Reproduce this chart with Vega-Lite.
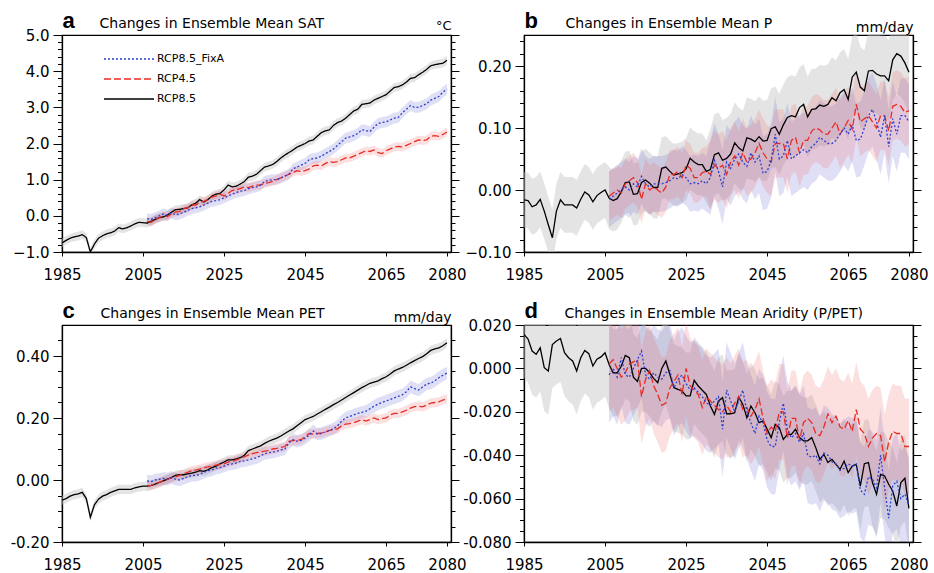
{
"$schema":"https://vega.github.io/schema/vega-lite/v6.json",
"padding":{"left":9,"top":8,"right":4,"bottom":4},
"autosize":{"type":"pad"},
"columns":2,
"spacing":{"row":73,"column":73},
"bounds":"flush",
"config":{"view":{"stroke":"black","strokeWidth":1.2},"axis":{"grid":false,"domainColor":"black","domainWidth":1.3,"tickColor":"black","tickWidth":1,"labelColor":"black","labelFont":"DejaVu Sans","labelFontSize":15,"titleColor":"black","titleFont":"DejaVu Sans","titleFontWeight":"normal","labelOverlap":false,"labelFlush":false}},
"datasets":{
"A":[
{"y":1985,"k":-0.75,"kl":-0.87,"kh":-0.63},{"y":1986,"k":-0.68,"kl":-0.8,"kh":-0.56},{"y":1987,"k":-0.62,"kl":-0.74,"kh":-0.5},{"y":1988,"k":-0.58,"kl":-0.7,"kh":-0.46},{"y":1989,"k":-0.56,"kl":-0.68,"kh":-0.44},{"y":1990,"k":-0.52,"kl":-0.64,"kh":-0.4},{"y":1991,"k":-0.6,"kl":-0.72,"kh":-0.48},{"y":1992,"k":-1.0,"kl":-1.12,"kh":-0.88},{"y":1993,"k":-0.78,"kl":-0.9,"kh":-0.66},{"y":1994,"k":-0.62,"kl":-0.74,"kh":-0.5},{"y":1995,"k":-0.55,"kl":-0.67,"kh":-0.43},{"y":1996,"k":-0.5,"kl":-0.62,"kh":-0.38},{"y":1997,"k":-0.47,"kl":-0.59,"kh":-0.35},{"y":1998,"k":-0.42,"kl":-0.54,"kh":-0.3},{"y":1999,"k":-0.33,"kl":-0.45,"kh":-0.21},{"y":2000,"k":-0.36,"kl":-0.48,"kh":-0.24},{"y":2001,"k":-0.33,"kl":-0.45,"kh":-0.21},{"y":2002,"k":-0.28,"kl":-0.4,"kh":-0.16},{"y":2003,"k":-0.22,"kl":-0.34,"kh":-0.1},{"y":2004,"k":-0.18,"kl":-0.3,"kh":-0.06},{"y":2005,"k":-0.19,"kl":-0.31,"kh":-0.07},
{"y":2006,"k":-0.2,"kl":-0.32,"kh":-0.08,"b":-0.08,"bl":-0.23,"bh":0.07,"r":-0.15,"rl":-0.27,"rh":-0.03},
{"y":2007,"k":-0.15,"kl":-0.27,"kh":-0.03,"b":-0.1,"bl":-0.25,"bh":0.05,"r":-0.18,"rl":-0.3,"rh":-0.06},
{"y":2008,"k":-0.1,"kl":-0.22,"kh":0.02,"b":-0.05,"bl":-0.2,"bh":0.1,"r":-0.1,"rl":-0.22,"rh":0.02},
{"y":2009,"k":-0.05,"kl":-0.17,"kh":0.07,"b":0.0,"bl":-0.15,"bh":0.15,"r":-0.05,"rl":-0.17,"rh":0.07},
{"y":2010,"k":-0.03,"kl":-0.15,"kh":0.09,"b":0.05,"bl":-0.1,"bh":0.2,"r":0.0,"rl":-0.12,"rh":0.12},
{"y":2011,"k":0.02,"kl":-0.1,"kh":0.14,"b":0.02,"bl":-0.13,"bh":0.17,"r":-0.02,"rl":-0.14,"rh":0.1},
{"y":2012,"k":0.1,"kl":-0.02,"kh":0.22,"b":0.08,"bl":-0.07,"bh":0.23,"r":0.05,"rl":-0.07,"rh":0.17},
{"y":2013,"k":0.17,"kl":0.05,"kh":0.29,"b":0.03,"bl":-0.12,"bh":0.18,"r":0.1,"rl":-0.02,"rh":0.22},
{"y":2014,"k":0.18,"kl":0.06,"kh":0.3,"b":0.05,"bl":-0.1,"bh":0.2,"r":0.12,"rl":0.0,"rh":0.24},
{"y":2015,"k":0.2,"kl":0.08,"kh":0.32,"b":0.1,"bl":-0.05,"bh":0.25,"r":0.2,"rl":0.08,"rh":0.32},
{"y":2016,"k":0.22,"kl":0.1,"kh":0.34,"b":0.15,"bl":0.0,"bh":0.3,"r":0.22,"rl":0.1,"rh":0.34},
{"y":2017,"k":0.3,"kl":0.18,"kh":0.42,"b":0.2,"bl":0.05,"bh":0.35,"r":0.3,"rl":0.18,"rh":0.42},
{"y":2018,"k":0.35,"kl":0.23,"kh":0.47,"b":0.22,"bl":0.07,"bh":0.37,"r":0.3,"rl":0.18,"rh":0.42},
{"y":2019,"k":0.45,"kl":0.33,"kh":0.57,"b":0.25,"bl":0.1,"bh":0.4,"r":0.38,"rl":0.26,"rh":0.5},
{"y":2020,"k":0.38,"kl":0.26,"kh":0.5,"b":0.3,"bl":0.15,"bh":0.45,"r":0.4,"rl":0.28,"rh":0.52},
{"y":2021,"k":0.45,"kl":0.33,"kh":0.57,"b":0.35,"bl":0.2,"bh":0.5,"r":0.45,"rl":0.33,"rh":0.57},
{"y":2022,"k":0.55,"kl":0.43,"kh":0.67,"b":0.4,"bl":0.25,"bh":0.55,"r":0.52,"rl":0.4,"rh":0.64},
{"y":2023,"k":0.6,"kl":0.48,"kh":0.72,"b":0.42,"bl":0.27,"bh":0.57,"r":0.55,"rl":0.43,"rh":0.67},
{"y":2024,"k":0.62,"kl":0.5,"kh":0.74,"b":0.45,"bl":0.3,"bh":0.6,"r":0.6,"rl":0.48,"rh":0.72},
{"y":2025,"k":0.72,"kl":0.6,"kh":0.84,"b":0.5,"bl":0.35,"bh":0.65,"r":0.55,"rl":0.43,"rh":0.67},
{"y":2026,"k":0.85,"kl":0.73,"kh":0.97,"b":0.55,"bl":0.4,"bh":0.7,"r":0.62,"rl":0.5,"rh":0.74},
{"y":2027,"k":0.8,"kl":0.68,"kh":0.92,"b":0.6,"bl":0.45,"bh":0.75,"r":0.7,"rl":0.58,"rh":0.82},
{"y":2028,"k":0.82,"kl":0.7,"kh":0.94,"b":0.65,"bl":0.5,"bh":0.8,"r":0.72,"rl":0.6,"rh":0.84},
{"y":2029,"k":0.88,"kl":0.76,"kh":1.0,"b":0.68,"bl":0.53,"bh":0.83,"r":0.75,"rl":0.63,"rh":0.87},
{"y":2030,"k":0.95,"kl":0.83,"kh":1.07,"b":0.7,"bl":0.55,"bh":0.85,"r":0.8,"rl":0.68,"rh":0.92},
{"y":2031,"k":1.07,"kl":0.95,"kh":1.19,"b":0.75,"bl":0.6,"bh":0.9,"r":0.78,"rl":0.66,"rh":0.9},
{"y":2032,"k":1.1,"kl":0.98,"kh":1.22,"b":0.78,"bl":0.63,"bh":0.93,"r":0.82,"rl":0.7,"rh":0.94},
{"y":2033,"k":1.15,"kl":1.03,"kh":1.27,"b":0.8,"bl":0.65,"bh":0.95,"r":0.85,"rl":0.73,"rh":0.97},
{"y":2034,"k":1.25,"kl":1.13,"kh":1.37,"b":0.85,"bl":0.7,"bh":1.0,"r":0.85,"rl":0.73,"rh":0.97},
{"y":2035,"k":1.35,"kl":1.23,"kh":1.47,"b":0.95,"bl":0.8,"bh":1.1,"r":0.9,"rl":0.78,"rh":1.02},
{"y":2036,"k":1.38,"kl":1.26,"kh":1.5,"b":0.98,"bl":0.83,"bh":1.13,"r":0.92,"rl":0.8,"rh":1.04},
{"y":2037,"k":1.42,"kl":1.3,"kh":1.54,"b":1.0,"bl":0.85,"bh":1.15,"r":0.95,"rl":0.83,"rh":1.07},
{"y":2038,"k":1.5,"kl":1.38,"kh":1.62,"b":1.0,"bl":0.85,"bh":1.15,"r":1.0,"rl":0.88,"rh":1.12},
{"y":2039,"k":1.6,"kl":1.48,"kh":1.72,"b":1.05,"bl":0.9,"bh":1.2,"r":1.05,"rl":0.93,"rh":1.17},
{"y":2040,"k":1.68,"kl":1.56,"kh":1.8,"b":1.1,"bl":0.95,"bh":1.25,"r":1.1,"rl":0.98,"rh":1.22},
{"y":2041,"k":1.75,"kl":1.63,"kh":1.87,"b":1.15,"bl":1.0,"bh":1.3,"r":1.15,"rl":1.03,"rh":1.27},
{"y":2042,"k":1.82,"kl":1.7,"kh":1.94,"b":1.3,"bl":1.15,"bh":1.45,"r":1.2,"rl":1.08,"rh":1.32},
{"y":2043,"k":1.9,"kl":1.78,"kh":2.02,"b":1.35,"bl":1.2,"bh":1.5,"r":1.25,"rl":1.13,"rh":1.37},
{"y":2044,"k":1.95,"kl":1.83,"kh":2.07,"b":1.4,"bl":1.25,"bh":1.55,"r":1.22,"rl":1.1,"rh":1.34},
{"y":2045,"k":2.0,"kl":1.88,"kh":2.12,"b":1.45,"bl":1.3,"bh":1.6,"r":1.25,"rl":1.13,"rh":1.37},
{"y":2046,"k":2.07,"kl":1.95,"kh":2.19,"b":1.55,"bl":1.4,"bh":1.7,"r":1.3,"rl":1.18,"rh":1.42},
{"y":2047,"k":2.1,"kl":1.98,"kh":2.22,"b":1.58,"bl":1.43,"bh":1.73,"r":1.38,"rl":1.26,"rh":1.5},
{"y":2048,"k":2.2,"kl":2.08,"kh":2.32,"b":1.6,"bl":1.45,"bh":1.75,"r":1.4,"rl":1.28,"rh":1.52},
{"y":2049,"k":2.3,"kl":2.18,"kh":2.42,"b":1.65,"bl":1.5,"bh":1.8,"r":1.38,"rl":1.26,"rh":1.5},
{"y":2050,"k":2.35,"kl":2.23,"kh":2.47,"b":1.72,"bl":1.57,"bh":1.87,"r":1.45,"rl":1.33,"rh":1.57},
{"y":2051,"k":2.38,"kl":2.26,"kh":2.5,"b":1.78,"bl":1.63,"bh":1.93,"r":1.5,"rl":1.38,"rh":1.62},
{"y":2052,"k":2.5,"kl":2.38,"kh":2.62,"b":1.85,"bl":1.7,"bh":2.0,"r":1.48,"rl":1.36,"rh":1.6},
{"y":2053,"k":2.58,"kl":2.46,"kh":2.7,"b":1.95,"bl":1.8,"bh":2.1,"r":1.5,"rl":1.38,"rh":1.62},
{"y":2054,"k":2.62,"kl":2.5,"kh":2.74,"b":2.05,"bl":1.9,"bh":2.2,"r":1.55,"rl":1.43,"rh":1.67},
{"y":2055,"k":2.7,"kl":2.58,"kh":2.82,"b":2.15,"bl":2.0,"bh":2.3,"r":1.6,"rl":1.48,"rh":1.72},
{"y":2056,"k":2.8,"kl":2.68,"kh":2.92,"b":2.18,"bl":2.03,"bh":2.33,"r":1.6,"rl":1.48,"rh":1.72},
{"y":2057,"k":2.9,"kl":2.78,"kh":3.02,"b":2.22,"bl":2.07,"bh":2.37,"r":1.65,"rl":1.53,"rh":1.77},
{"y":2058,"k":2.95,"kl":2.83,"kh":3.07,"b":2.28,"bl":2.13,"bh":2.43,"r":1.7,"rl":1.58,"rh":1.82},
{"y":2059,"k":3.08,"kl":2.96,"kh":3.2,"b":2.38,"bl":2.23,"bh":2.53,"r":1.75,"rl":1.63,"rh":1.87},
{"y":2060,"k":3.1,"kl":2.98,"kh":3.22,"b":2.36,"bl":2.21,"bh":2.51,"r":1.8,"rl":1.68,"rh":1.92},
{"y":2061,"k":3.12,"kl":3.0,"kh":3.24,"b":2.33,"bl":2.18,"bh":2.48,"r":1.78,"rl":1.66,"rh":1.9},
{"y":2062,"k":3.2,"kl":3.08,"kh":3.32,"b":2.45,"bl":2.3,"bh":2.6,"r":1.82,"rl":1.7,"rh":1.94},
{"y":2063,"k":3.25,"kl":3.13,"kh":3.37,"b":2.55,"bl":2.4,"bh":2.7,"r":1.75,"rl":1.63,"rh":1.87},
{"y":2064,"k":3.3,"kl":3.18,"kh":3.42,"b":2.58,"bl":2.43,"bh":2.73,"r":1.72,"rl":1.6,"rh":1.84},
{"y":2065,"k":3.35,"kl":3.23,"kh":3.47,"b":2.6,"bl":2.45,"bh":2.75,"r":1.8,"rl":1.68,"rh":1.92},
{"y":2066,"k":3.45,"kl":3.33,"kh":3.57,"b":2.65,"bl":2.5,"bh":2.8,"r":1.85,"rl":1.73,"rh":1.97},
{"y":2067,"k":3.55,"kl":3.43,"kh":3.67,"b":2.7,"bl":2.55,"bh":2.85,"r":1.9,"rl":1.78,"rh":2.02},
{"y":2068,"k":3.57,"kl":3.45,"kh":3.69,"b":2.72,"bl":2.57,"bh":2.87,"r":1.92,"rl":1.8,"rh":2.04},
{"y":2069,"k":3.62,"kl":3.5,"kh":3.74,"b":2.85,"bl":2.7,"bh":3.0,"r":1.9,"rl":1.78,"rh":2.02},
{"y":2070,"k":3.7,"kl":3.58,"kh":3.82,"b":2.95,"bl":2.8,"bh":3.1,"r":1.95,"rl":1.83,"rh":2.07},
{"y":2071,"k":3.8,"kl":3.68,"kh":3.92,"b":3.05,"bl":2.9,"bh":3.2,"r":2.0,"rl":1.88,"rh":2.12},
{"y":2072,"k":3.82,"kl":3.7,"kh":3.94,"b":3.0,"bl":2.85,"bh":3.15,"r":2.05,"rl":1.93,"rh":2.17},
{"y":2073,"k":3.9,"kl":3.78,"kh":4.02,"b":3.0,"bl":2.85,"bh":3.15,"r":2.1,"rl":1.98,"rh":2.22},
{"y":2074,"k":3.97,"kl":3.85,"kh":4.09,"b":3.05,"bl":2.9,"bh":3.2,"r":2.08,"rl":1.96,"rh":2.2},
{"y":2075,"k":4.05,"kl":3.93,"kh":4.17,"b":3.1,"bl":2.95,"bh":3.25,"r":2.1,"rl":1.98,"rh":2.22},
{"y":2076,"k":4.15,"kl":4.03,"kh":4.27,"b":3.2,"bl":3.05,"bh":3.35,"r":2.2,"rl":2.08,"rh":2.32},
{"y":2077,"k":4.18,"kl":4.06,"kh":4.3,"b":3.25,"bl":3.1,"bh":3.4,"r":2.22,"rl":2.1,"rh":2.34},
{"y":2078,"k":4.2,"kl":4.08,"kh":4.32,"b":3.3,"bl":3.15,"bh":3.45,"r":2.2,"rl":2.08,"rh":2.32},
{"y":2079,"k":4.22,"kl":4.1,"kh":4.34,"b":3.42,"bl":3.27,"bh":3.57,"r":2.25,"rl":2.13,"rh":2.37},
{"y":2080,"k":4.3,"kl":4.18,"kh":4.42,"b":3.5,"bl":3.35,"bh":3.65,"r":2.32,"rl":2.2,"rh":2.44}
],
"B":[
{"y":1985,"k":-0.016,"kl":-0.061,"kh":0.029},{"y":1986,"k":-0.017,"kl":-0.062,"kh":0.028},{"y":1987,"k":-0.027,"kl":-0.072,"kh":0.018},{"y":1988,"k":-0.024,"kl":-0.069,"kh":0.021},{"y":1989,"k":-0.015,"kl":-0.06,"kh":0.03},{"y":1990,"k":-0.034,"kl":-0.079,"kh":0.011},{"y":1991,"k":-0.056,"kl":-0.101,"kh":-0.011},{"y":1992,"k":-0.077,"kl":-0.122,"kh":-0.032},{"y":1993,"k":-0.034,"kl":-0.079,"kh":0.011},{"y":1994,"k":-0.016,"kl":-0.061,"kh":0.029},{"y":1995,"k":-0.024,"kl":-0.069,"kh":0.021},{"y":1996,"k":-0.024,"kl":-0.069,"kh":0.021},{"y":1997,"k":-0.024,"kl":-0.069,"kh":0.021},{"y":1998,"k":-0.029,"kl":-0.074,"kh":0.016},{"y":1999,"k":-0.015,"kl":-0.06,"kh":0.03},{"y":2000,"k":-0.003,"kl":-0.048,"kh":0.042},{"y":2001,"k":-0.008,"kl":-0.053,"kh":0.037},{"y":2002,"k":-0.019,"kl":-0.064,"kh":0.026},{"y":2003,"k":-0.009,"kl":-0.054,"kh":0.036},{"y":2004,"k":-0.004,"kl":-0.049,"kh":0.041},{"y":2005,"k":0.0,"kl":-0.045,"kh":0.045},
{"y":2006,"k":-0.013,"kl":-0.063,"kh":0.037,"b":-0.015,"bl":-0.06,"bh":0.03,"r":-0.01,"rl":-0.05,"rh":0.03},
{"y":2007,"k":-0.017,"kl":-0.067,"kh":0.033,"b":-0.01,"bl":-0.055,"bh":0.035,"r":-0.005,"rl":-0.045,"rh":0.035},
{"y":2008,"k":-0.014,"kl":-0.064,"kh":0.036,"b":-0.005,"bl":-0.05,"bh":0.04,"r":0.0,"rl":-0.04,"rh":0.04},
{"y":2009,"k":-0.003,"kl":-0.053,"kh":0.047,"b":0.0,"bl":-0.045,"bh":0.045,"r":-0.005,"rl":-0.045,"rh":0.035},
{"y":2010,"k":0.012,"kl":-0.038,"kh":0.062,"b":0.005,"bl":-0.04,"bh":0.05,"r":0.01,"rl":-0.03,"rh":0.05},
{"y":2011,"k":0.013,"kl":-0.037,"kh":0.063,"b":0.0,"bl":-0.045,"bh":0.045,"r":0.015,"rl":-0.025,"rh":0.055},
{"y":2012,"k":-0.007,"kl":-0.057,"kh":0.043,"b":0.01,"bl":-0.035,"bh":0.055,"r":0.02,"rl":-0.02,"rh":0.06},
{"y":2013,"k":-0.006,"kl":-0.056,"kh":0.044,"b":0.005,"bl":-0.04,"bh":0.05,"r":0.012,"rl":-0.028,"rh":0.052},
{"y":2014,"k":0.012,"kl":-0.038,"kh":0.062,"b":0.022,"bl":-0.023,"bh":0.067,"r":-0.015,"rl":-0.055,"rh":0.025},
{"y":2015,"k":0.016,"kl":-0.034,"kh":0.066,"b":0.01,"bl":-0.035,"bh":0.055,"r":0.01,"rl":-0.03,"rh":0.05},
{"y":2016,"k":0.011,"kl":-0.039,"kh":0.061,"b":0.005,"bl":-0.04,"bh":0.05,"r":0.0,"rl":-0.04,"rh":0.04},
{"y":2017,"k":0.004,"kl":-0.046,"kh":0.054,"b":0.01,"bl":-0.035,"bh":0.055,"r":0.005,"rl":-0.035,"rh":0.045},
{"y":2018,"k":0.004,"kl":-0.046,"kh":0.054,"b":0.01,"bl":-0.035,"bh":0.055,"r":0.0,"rl":-0.04,"rh":0.04},
{"y":2019,"k":0.035,"kl":-0.015,"kh":0.085,"b":0.01,"bl":-0.035,"bh":0.055,"r":-0.005,"rl":-0.045,"rh":0.035},
{"y":2020,"k":0.037,"kl":-0.013,"kh":0.087,"b":0.012,"bl":-0.033,"bh":0.057,"r":0.005,"rl":-0.035,"rh":0.045},
{"y":2021,"k":0.03,"kl":-0.02,"kh":0.08,"b":0.015,"bl":-0.03,"bh":0.06,"r":0.025,"rl":-0.015,"rh":0.065},
{"y":2022,"k":0.024,"kl":-0.026,"kh":0.074,"b":0.02,"bl":-0.025,"bh":0.065,"r":0.025,"rl":-0.015,"rh":0.065},
{"y":2023,"k":0.026,"kl":-0.024,"kh":0.076,"b":0.018,"bl":-0.027,"bh":0.063,"r":0.03,"rl":-0.01,"rh":0.07},
{"y":2024,"k":0.028,"kl":-0.022,"kh":0.078,"b":0.025,"bl":-0.02,"bh":0.07,"r":0.02,"rl":-0.02,"rh":0.06},
{"y":2025,"k":0.034,"kl":-0.016,"kh":0.084,"b":0.02,"bl":-0.025,"bh":0.065,"r":0.04,"rl":0.0,"rh":0.08},
{"y":2026,"k":0.051,"kl":0.001,"kh":0.101,"b":0.01,"bl":-0.035,"bh":0.055,"r":0.035,"rl":-0.005,"rh":0.075},
{"y":2027,"k":0.045,"kl":-0.005,"kh":0.095,"b":0.012,"bl":-0.033,"bh":0.057,"r":0.02,"rl":-0.02,"rh":0.06},
{"y":2028,"k":0.041,"kl":-0.009,"kh":0.091,"b":0.01,"bl":-0.035,"bh":0.055,"r":0.02,"rl":-0.02,"rh":0.06},
{"y":2029,"k":0.041,"kl":-0.009,"kh":0.091,"b":0.015,"bl":-0.03,"bh":0.06,"r":0.028,"rl":-0.012,"rh":0.068},
{"y":2030,"k":0.03,"kl":-0.02,"kh":0.08,"b":0.01,"bl":-0.035,"bh":0.055,"r":0.03,"rl":-0.01,"rh":0.07},
{"y":2031,"k":0.033,"kl":-0.032,"kh":0.098,"b":0.02,"bl":-0.04,"bh":0.08,"r":0.025,"rl":-0.03,"rh":0.08},
{"y":2032,"k":0.057,"kl":-0.008,"kh":0.122,"b":0.048,"bl":-0.012,"bh":0.108,"r":0.04,"rl":-0.015,"rh":0.095},
{"y":2033,"k":0.06,"kl":-0.005,"kh":0.125,"b":0.03,"bl":-0.03,"bh":0.09,"r":0.035,"rl":-0.02,"rh":0.09},
{"y":2034,"k":0.048,"kl":-0.017,"kh":0.113,"b":0.005,"bl":-0.055,"bh":0.065,"r":0.04,"rl":-0.015,"rh":0.095},
{"y":2035,"k":0.051,"kl":-0.014,"kh":0.116,"b":0.045,"bl":-0.015,"bh":0.105,"r":0.025,"rl":-0.03,"rh":0.08},
{"y":2036,"k":0.058,"kl":-0.007,"kh":0.123,"b":0.035,"bl":-0.025,"bh":0.095,"r":0.045,"rl":-0.01,"rh":0.1},
{"y":2037,"k":0.076,"kl":0.011,"kh":0.141,"b":0.05,"bl":-0.01,"bh":0.11,"r":0.055,"rl":0.0,"rh":0.11},
{"y":2038,"k":0.068,"kl":0.003,"kh":0.133,"b":0.058,"bl":-0.002,"bh":0.118,"r":0.04,"rl":-0.015,"rh":0.095},
{"y":2039,"k":0.063,"kl":-0.002,"kh":0.128,"b":0.045,"bl":-0.015,"bh":0.105,"r":0.06,"rl":0.005,"rh":0.115},
{"y":2040,"k":0.084,"kl":0.019,"kh":0.149,"b":0.038,"bl":-0.022,"bh":0.098,"r":0.045,"rl":-0.01,"rh":0.1},
{"y":2041,"k":0.082,"kl":0.017,"kh":0.147,"b":0.06,"bl":0.0,"bh":0.12,"r":0.05,"rl":-0.005,"rh":0.105},
{"y":2042,"k":0.078,"kl":0.013,"kh":0.143,"b":0.045,"bl":-0.015,"bh":0.105,"r":0.06,"rl":0.005,"rh":0.115},
{"y":2043,"k":0.086,"kl":0.021,"kh":0.151,"b":0.055,"bl":-0.005,"bh":0.115,"r":0.075,"rl":0.02,"rh":0.13},
{"y":2044,"k":0.079,"kl":0.014,"kh":0.144,"b":0.027,"bl":-0.033,"bh":0.087,"r":0.06,"rl":0.005,"rh":0.115},
{"y":2045,"k":0.08,"kl":0.015,"kh":0.145,"b":0.03,"bl":-0.03,"bh":0.09,"r":0.05,"rl":-0.005,"rh":0.105},
{"y":2046,"k":0.099,"kl":0.034,"kh":0.164,"b":0.048,"bl":-0.012,"bh":0.108,"r":0.045,"rl":-0.01,"rh":0.1},
{"y":2047,"k":0.102,"kl":0.037,"kh":0.167,"b":0.09,"bl":0.03,"bh":0.15,"r":0.075,"rl":0.02,"rh":0.13},
{"y":2048,"k":0.09,"kl":0.025,"kh":0.155,"b":0.05,"bl":-0.01,"bh":0.11,"r":0.075,"rl":0.02,"rh":0.13},
{"y":2049,"k":0.105,"kl":0.04,"kh":0.17,"b":0.055,"bl":-0.005,"bh":0.115,"r":0.075,"rl":0.02,"rh":0.13},
{"y":2050,"k":0.117,"kl":0.052,"kh":0.182,"b":0.08,"bl":0.02,"bh":0.14,"r":0.05,"rl":-0.005,"rh":0.105},
{"y":2051,"k":0.12,"kl":0.055,"kh":0.185,"b":0.05,"bl":-0.01,"bh":0.11,"r":0.08,"rl":0.025,"rh":0.135},
{"y":2052,"k":0.118,"kl":0.053,"kh":0.183,"b":0.055,"bl":-0.005,"bh":0.115,"r":0.085,"rl":0.03,"rh":0.14},
{"y":2053,"k":0.133,"kl":0.068,"kh":0.198,"b":0.06,"bl":0.0,"bh":0.12,"r":0.06,"rl":0.005,"rh":0.115},
{"y":2054,"k":0.138,"kl":0.073,"kh":0.203,"b":0.065,"bl":0.005,"bh":0.125,"r":0.08,"rl":0.025,"rh":0.135},
{"y":2055,"k":0.118,"kl":0.053,"kh":0.183,"b":0.06,"bl":0.0,"bh":0.12,"r":0.08,"rl":0.025,"rh":0.135},
{"y":2056,"k":0.13,"kl":0.065,"kh":0.195,"b":0.07,"bl":0.01,"bh":0.13,"r":0.095,"rl":0.04,"rh":0.15},
{"y":2057,"k":0.131,"kl":0.066,"kh":0.196,"b":0.075,"bl":0.015,"bh":0.135,"r":0.1,"rl":0.045,"rh":0.155},
{"y":2058,"k":0.137,"kl":0.072,"kh":0.202,"b":0.085,"bl":0.025,"bh":0.145,"r":0.097,"rl":0.042,"rh":0.152},
{"y":2059,"k":0.135,"kl":0.07,"kh":0.2,"b":0.08,"bl":0.02,"bh":0.14,"r":0.09,"rl":0.035,"rh":0.145},
{"y":2060,"k":0.138,"kl":0.073,"kh":0.203,"b":0.075,"bl":0.015,"bh":0.135,"r":0.09,"rl":0.035,"rh":0.145},
{"y":2061,"k":0.149,"kl":0.084,"kh":0.214,"b":0.075,"bl":0.015,"bh":0.135,"r":0.1,"rl":0.045,"rh":0.155},
{"y":2062,"k":0.144,"kl":0.079,"kh":0.209,"b":0.08,"bl":0.02,"bh":0.14,"r":0.11,"rl":0.055,"rh":0.165},
{"y":2063,"k":0.157,"kl":0.092,"kh":0.222,"b":0.09,"bl":0.03,"bh":0.15,"r":0.09,"rl":0.035,"rh":0.145},
{"y":2064,"k":0.162,"kl":0.097,"kh":0.227,"b":0.1,"bl":0.04,"bh":0.16,"r":0.1,"rl":0.045,"rh":0.155},
{"y":2065,"k":0.146,"kl":0.081,"kh":0.211,"b":0.09,"bl":0.03,"bh":0.15,"r":0.112,"rl":0.057,"rh":0.167},
{"y":2066,"k":0.182,"kl":0.117,"kh":0.247,"b":0.105,"bl":0.045,"bh":0.165,"r":0.098,"rl":0.043,"rh":0.153},
{"y":2067,"k":0.19,"kl":0.125,"kh":0.255,"b":0.08,"bl":0.02,"bh":0.14,"r":0.138,"rl":0.083,"rh":0.193},
{"y":2068,"k":0.166,"kl":0.101,"kh":0.231,"b":0.082,"bl":0.022,"bh":0.142,"r":0.11,"rl":0.055,"rh":0.165},
{"y":2069,"k":0.16,"kl":0.095,"kh":0.225,"b":0.1,"bl":0.04,"bh":0.16,"r":0.115,"rl":0.06,"rh":0.17},
{"y":2070,"k":0.192,"kl":0.127,"kh":0.257,"b":0.12,"bl":0.06,"bh":0.18,"r":0.12,"rl":0.065,"rh":0.175},
{"y":2071,"k":0.193,"kl":0.128,"kh":0.258,"b":0.13,"bl":0.07,"bh":0.19,"r":0.11,"rl":0.055,"rh":0.165},
{"y":2072,"k":0.187,"kl":0.122,"kh":0.252,"b":0.11,"bl":0.05,"bh":0.17,"r":0.1,"rl":0.045,"rh":0.155},
{"y":2073,"k":0.184,"kl":0.119,"kh":0.249,"b":0.085,"bl":0.025,"bh":0.145,"r":0.12,"rl":0.065,"rh":0.175},
{"y":2074,"k":0.184,"kl":0.119,"kh":0.249,"b":0.12,"bl":0.06,"bh":0.18,"r":0.12,"rl":0.065,"rh":0.175},
{"y":2075,"k":0.176,"kl":0.111,"kh":0.241,"b":0.07,"bl":0.01,"bh":0.13,"r":0.095,"rl":0.04,"rh":0.15},
{"y":2076,"k":0.21,"kl":0.145,"kh":0.275,"b":0.115,"bl":0.055,"bh":0.175,"r":0.135,"rl":0.08,"rh":0.19},
{"y":2077,"k":0.22,"kl":0.155,"kh":0.285,"b":0.09,"bl":0.03,"bh":0.15,"r":0.138,"rl":0.083,"rh":0.193},
{"y":2078,"k":0.216,"kl":0.151,"kh":0.281,"b":0.12,"bl":0.06,"bh":0.18,"r":0.135,"rl":0.08,"rh":0.19},
{"y":2079,"k":0.205,"kl":0.14,"kh":0.27,"b":0.12,"bl":0.06,"bh":0.18,"r":0.125,"rl":0.07,"rh":0.18},
{"y":2080,"k":0.19,"kl":0.125,"kh":0.255,"b":0.11,"bl":0.05,"bh":0.17,"r":0.128,"rl":0.073,"rh":0.183}
],
"C":[
{"y":1985,"k":-0.065,"kl":-0.08,"kh":-0.05},{"y":1986,"k":-0.06,"kl":-0.075,"kh":-0.045},{"y":1987,"k":-0.052,"kl":-0.067,"kh":-0.037},{"y":1988,"k":-0.047,"kl":-0.062,"kh":-0.032},{"y":1989,"k":-0.045,"kl":-0.06,"kh":-0.03},{"y":1990,"k":-0.04,"kl":-0.055,"kh":-0.025},{"y":1991,"k":-0.06,"kl":-0.075,"kh":-0.045},{"y":1992,"k":-0.12,"kl":-0.135,"kh":-0.105},{"y":1993,"k":-0.08,"kl":-0.095,"kh":-0.065},{"y":1994,"k":-0.062,"kl":-0.077,"kh":-0.047},{"y":1995,"k":-0.052,"kl":-0.067,"kh":-0.037},{"y":1996,"k":-0.047,"kl":-0.062,"kh":-0.032},{"y":1997,"k":-0.04,"kl":-0.055,"kh":-0.025},{"y":1998,"k":-0.035,"kl":-0.05,"kh":-0.02},{"y":1999,"k":-0.03,"kl":-0.045,"kh":-0.015},{"y":2000,"k":-0.03,"kl":-0.045,"kh":-0.015},{"y":2001,"k":-0.03,"kl":-0.045,"kh":-0.015},{"y":2002,"k":-0.03,"kl":-0.045,"kh":-0.015},{"y":2003,"k":-0.025,"kl":-0.04,"kh":-0.01},{"y":2004,"k":-0.022,"kl":-0.037,"kh":-0.007},{"y":2005,"k":-0.02,"kl":-0.035,"kh":-0.005},
{"y":2006,"k":-0.02,"kl":-0.035,"kh":-0.005,"b":-0.003,"bl":-0.023,"bh":0.017,"r":-0.02,"rl":-0.035,"rh":-0.005},
{"y":2007,"k":-0.017,"kl":-0.032,"kh":-0.002,"b":-0.005,"bl":-0.025,"bh":0.015,"r":-0.017,"rl":-0.032,"rh":-0.002},
{"y":2008,"k":-0.013,"kl":-0.028,"kh":0.002,"b":0.0,"bl":-0.02,"bh":0.02,"r":-0.012,"rl":-0.027,"rh":0.003},
{"y":2009,"k":-0.008,"kl":-0.023,"kh":0.007,"b":0.002,"bl":-0.018,"bh":0.022,"r":-0.008,"rl":-0.023,"rh":0.007},
{"y":2010,"k":-0.003,"kl":-0.018,"kh":0.012,"b":0.005,"bl":-0.015,"bh":0.025,"r":-0.003,"rl":-0.018,"rh":0.012},
{"y":2011,"k":0.003,"kl":-0.012,"kh":0.018,"b":0.003,"bl":-0.017,"bh":0.023,"r":0.002,"rl":-0.013,"rh":0.017},
{"y":2012,"k":0.008,"kl":-0.007,"kh":0.023,"b":0.008,"bl":-0.012,"bh":0.028,"r":0.007,"rl":-0.008,"rh":0.022},
{"y":2013,"k":0.015,"kl":0.0,"kh":0.03,"b":0.003,"bl":-0.017,"bh":0.023,"r":0.01,"rl":-0.005,"rh":0.025},
{"y":2014,"k":0.017,"kl":0.002,"kh":0.032,"b":0.0,"bl":-0.02,"bh":0.02,"r":0.015,"rl":0.0,"rh":0.03},
{"y":2015,"k":0.017,"kl":0.002,"kh":0.032,"b":0.005,"bl":-0.015,"bh":0.025,"r":0.02,"rl":0.005,"rh":0.035},
{"y":2016,"k":0.02,"kl":0.005,"kh":0.035,"b":0.01,"bl":-0.01,"bh":0.03,"r":0.025,"rl":0.01,"rh":0.04},
{"y":2017,"k":0.022,"kl":0.007,"kh":0.037,"b":0.015,"bl":-0.005,"bh":0.035,"r":0.03,"rl":0.015,"rh":0.045},
{"y":2018,"k":0.025,"kl":0.01,"kh":0.04,"b":0.015,"bl":-0.005,"bh":0.035,"r":0.032,"rl":0.017,"rh":0.047},
{"y":2019,"k":0.03,"kl":0.015,"kh":0.045,"b":0.018,"bl":-0.002,"bh":0.038,"r":0.035,"rl":0.02,"rh":0.05},
{"y":2020,"k":0.028,"kl":0.013,"kh":0.043,"b":0.025,"bl":0.005,"bh":0.045,"r":0.04,"rl":0.025,"rh":0.055},
{"y":2021,"k":0.033,"kl":0.018,"kh":0.048,"b":0.03,"bl":0.01,"bh":0.05,"r":0.042,"rl":0.027,"rh":0.057},
{"y":2022,"k":0.04,"kl":0.025,"kh":0.055,"b":0.032,"bl":0.012,"bh":0.052,"r":0.045,"rl":0.03,"rh":0.06},
{"y":2023,"k":0.045,"kl":0.03,"kh":0.06,"b":0.038,"bl":0.018,"bh":0.058,"r":0.048,"rl":0.033,"rh":0.063},
{"y":2024,"k":0.052,"kl":0.037,"kh":0.067,"b":0.04,"bl":0.02,"bh":0.06,"r":0.05,"rl":0.035,"rh":0.065},
{"y":2025,"k":0.058,"kl":0.043,"kh":0.073,"b":0.045,"bl":0.025,"bh":0.065,"r":0.052,"rl":0.037,"rh":0.067},
{"y":2026,"k":0.065,"kl":0.05,"kh":0.08,"b":0.05,"bl":0.03,"bh":0.07,"r":0.058,"rl":0.043,"rh":0.073},
{"y":2027,"k":0.065,"kl":0.05,"kh":0.08,"b":0.052,"bl":0.032,"bh":0.072,"r":0.06,"rl":0.045,"rh":0.075},
{"y":2028,"k":0.068,"kl":0.053,"kh":0.083,"b":0.055,"bl":0.035,"bh":0.075,"r":0.065,"rl":0.05,"rh":0.08},
{"y":2029,"k":0.072,"kl":0.057,"kh":0.087,"b":0.06,"bl":0.04,"bh":0.08,"r":0.07,"rl":0.055,"rh":0.085},
{"y":2030,"k":0.08,"kl":0.065,"kh":0.095,"b":0.062,"bl":0.042,"bh":0.082,"r":0.075,"rl":0.06,"rh":0.09},
{"y":2031,"k":0.095,"kl":0.08,"kh":0.11,"b":0.065,"bl":0.045,"bh":0.085,"r":0.08,"rl":0.065,"rh":0.095},
{"y":2032,"k":0.1,"kl":0.085,"kh":0.115,"b":0.068,"bl":0.048,"bh":0.088,"r":0.085,"rl":0.07,"rh":0.1},
{"y":2033,"k":0.105,"kl":0.09,"kh":0.12,"b":0.072,"bl":0.052,"bh":0.092,"r":0.088,"rl":0.073,"rh":0.103},
{"y":2034,"k":0.11,"kl":0.095,"kh":0.125,"b":0.078,"bl":0.058,"bh":0.098,"r":0.09,"rl":0.075,"rh":0.105},
{"y":2035,"k":0.118,"kl":0.103,"kh":0.133,"b":0.085,"bl":0.065,"bh":0.105,"r":0.093,"rl":0.078,"rh":0.108},
{"y":2036,"k":0.125,"kl":0.11,"kh":0.14,"b":0.088,"bl":0.068,"bh":0.108,"r":0.095,"rl":0.08,"rh":0.11},
{"y":2037,"k":0.13,"kl":0.115,"kh":0.145,"b":0.09,"bl":0.07,"bh":0.11,"r":0.1,"rl":0.085,"rh":0.115},
{"y":2038,"k":0.135,"kl":0.12,"kh":0.15,"b":0.093,"bl":0.073,"bh":0.113,"r":0.102,"rl":0.087,"rh":0.117},
{"y":2039,"k":0.142,"kl":0.127,"kh":0.157,"b":0.097,"bl":0.077,"bh":0.117,"r":0.105,"rl":0.09,"rh":0.12},
{"y":2040,"k":0.15,"kl":0.135,"kh":0.165,"b":0.1,"bl":0.08,"bh":0.12,"r":0.108,"rl":0.093,"rh":0.123},
{"y":2041,"k":0.158,"kl":0.143,"kh":0.173,"b":0.12,"bl":0.1,"bh":0.14,"r":0.125,"rl":0.11,"rh":0.14},
{"y":2042,"k":0.165,"kl":0.15,"kh":0.18,"b":0.13,"bl":0.11,"bh":0.15,"r":0.127,"rl":0.112,"rh":0.142},
{"y":2043,"k":0.175,"kl":0.16,"kh":0.19,"b":0.125,"bl":0.105,"bh":0.145,"r":0.128,"rl":0.113,"rh":0.143},
{"y":2044,"k":0.185,"kl":0.17,"kh":0.2,"b":0.128,"bl":0.108,"bh":0.148,"r":0.13,"rl":0.115,"rh":0.145},
{"y":2045,"k":0.195,"kl":0.18,"kh":0.21,"b":0.135,"bl":0.115,"bh":0.155,"r":0.14,"rl":0.125,"rh":0.155},
{"y":2046,"k":0.2,"kl":0.185,"kh":0.215,"b":0.145,"bl":0.125,"bh":0.165,"r":0.15,"rl":0.135,"rh":0.165},
{"y":2047,"k":0.205,"kl":0.19,"kh":0.22,"b":0.158,"bl":0.138,"bh":0.178,"r":0.148,"rl":0.133,"rh":0.163},
{"y":2048,"k":0.213,"kl":0.198,"kh":0.228,"b":0.148,"bl":0.128,"bh":0.168,"r":0.15,"rl":0.135,"rh":0.165},
{"y":2049,"k":0.22,"kl":0.205,"kh":0.235,"b":0.15,"bl":0.13,"bh":0.17,"r":0.152,"rl":0.137,"rh":0.167},
{"y":2050,"k":0.228,"kl":0.213,"kh":0.243,"b":0.155,"bl":0.135,"bh":0.175,"r":0.155,"rl":0.14,"rh":0.17},
{"y":2051,"k":0.235,"kl":0.22,"kh":0.25,"b":0.16,"bl":0.14,"bh":0.18,"r":0.16,"rl":0.145,"rh":0.175},
{"y":2052,"k":0.243,"kl":0.228,"kh":0.258,"b":0.165,"bl":0.145,"bh":0.185,"r":0.162,"rl":0.147,"rh":0.177},
{"y":2053,"k":0.25,"kl":0.235,"kh":0.265,"b":0.175,"bl":0.155,"bh":0.195,"r":0.165,"rl":0.15,"rh":0.18},
{"y":2054,"k":0.258,"kl":0.243,"kh":0.273,"b":0.19,"bl":0.17,"bh":0.21,"r":0.175,"rl":0.16,"rh":0.19},
{"y":2055,"k":0.266,"kl":0.251,"kh":0.281,"b":0.2,"bl":0.18,"bh":0.22,"r":0.18,"rl":0.165,"rh":0.195},
{"y":2056,"k":0.274,"kl":0.259,"kh":0.289,"b":0.205,"bl":0.185,"bh":0.225,"r":0.182,"rl":0.167,"rh":0.197},
{"y":2057,"k":0.282,"kl":0.267,"kh":0.297,"b":0.21,"bl":0.19,"bh":0.23,"r":0.185,"rl":0.17,"rh":0.2},
{"y":2058,"k":0.29,"kl":0.275,"kh":0.305,"b":0.215,"bl":0.195,"bh":0.235,"r":0.19,"rl":0.175,"rh":0.205},
{"y":2059,"k":0.298,"kl":0.283,"kh":0.313,"b":0.218,"bl":0.198,"bh":0.238,"r":0.195,"rl":0.18,"rh":0.21},
{"y":2060,"k":0.305,"kl":0.29,"kh":0.32,"b":0.222,"bl":0.202,"bh":0.242,"r":0.19,"rl":0.175,"rh":0.205},
{"y":2061,"k":0.312,"kl":0.297,"kh":0.327,"b":0.23,"bl":0.21,"bh":0.25,"r":0.195,"rl":0.18,"rh":0.21},
{"y":2062,"k":0.316,"kl":0.301,"kh":0.331,"b":0.238,"bl":0.218,"bh":0.258,"r":0.2,"rl":0.185,"rh":0.215},
{"y":2063,"k":0.32,"kl":0.305,"kh":0.335,"b":0.245,"bl":0.225,"bh":0.265,"r":0.195,"rl":0.18,"rh":0.21},
{"y":2064,"k":0.327,"kl":0.312,"kh":0.342,"b":0.25,"bl":0.23,"bh":0.27,"r":0.198,"rl":0.183,"rh":0.213},
{"y":2065,"k":0.333,"kl":0.318,"kh":0.348,"b":0.255,"bl":0.235,"bh":0.275,"r":0.2,"rl":0.185,"rh":0.215},
{"y":2066,"k":0.342,"kl":0.327,"kh":0.357,"b":0.26,"bl":0.24,"bh":0.28,"r":0.21,"rl":0.195,"rh":0.225},
{"y":2067,"k":0.352,"kl":0.337,"kh":0.367,"b":0.265,"bl":0.245,"bh":0.285,"r":0.215,"rl":0.2,"rh":0.23},
{"y":2068,"k":0.358,"kl":0.343,"kh":0.373,"b":0.27,"bl":0.25,"bh":0.29,"r":0.215,"rl":0.2,"rh":0.23},
{"y":2069,"k":0.363,"kl":0.348,"kh":0.378,"b":0.275,"bl":0.255,"bh":0.295,"r":0.22,"rl":0.205,"rh":0.235},
{"y":2070,"k":0.37,"kl":0.355,"kh":0.385,"b":0.285,"bl":0.265,"bh":0.305,"r":0.225,"rl":0.21,"rh":0.24},
{"y":2071,"k":0.378,"kl":0.363,"kh":0.393,"b":0.3,"bl":0.28,"bh":0.32,"r":0.232,"rl":0.217,"rh":0.247},
{"y":2072,"k":0.385,"kl":0.37,"kh":0.4,"b":0.295,"bl":0.275,"bh":0.315,"r":0.237,"rl":0.222,"rh":0.252},
{"y":2073,"k":0.392,"kl":0.377,"kh":0.407,"b":0.29,"bl":0.27,"bh":0.31,"r":0.238,"rl":0.223,"rh":0.253},
{"y":2074,"k":0.398,"kl":0.383,"kh":0.413,"b":0.3,"bl":0.28,"bh":0.32,"r":0.236,"rl":0.221,"rh":0.251},
{"y":2075,"k":0.407,"kl":0.392,"kh":0.422,"b":0.31,"bl":0.29,"bh":0.33,"r":0.242,"rl":0.227,"rh":0.257},
{"y":2076,"k":0.418,"kl":0.403,"kh":0.433,"b":0.312,"bl":0.292,"bh":0.332,"r":0.248,"rl":0.233,"rh":0.263},
{"y":2077,"k":0.423,"kl":0.408,"kh":0.438,"b":0.32,"bl":0.3,"bh":0.34,"r":0.25,"rl":0.235,"rh":0.265},
{"y":2078,"k":0.426,"kl":0.411,"kh":0.441,"b":0.33,"bl":0.31,"bh":0.35,"r":0.252,"rl":0.237,"rh":0.267},
{"y":2079,"k":0.433,"kl":0.418,"kh":0.448,"b":0.338,"bl":0.318,"bh":0.358,"r":0.258,"rl":0.243,"rh":0.273},
{"y":2080,"k":0.443,"kl":0.428,"kh":0.458,"b":0.345,"bl":0.325,"bh":0.365,"r":0.262,"rl":0.247,"rh":0.277}
],
"D":[
{"y":1985,"k":0.0157,"kl":-0.0043,"kh":0.0357},{"y":1986,"k":0.0135,"kl":-0.0065,"kh":0.0335},{"y":1987,"k":0.008,"kl":-0.012,"kh":0.028},{"y":1988,"k":0.0065,"kl":-0.0135,"kh":0.0265},{"y":1989,"k":0.0095,"kl":-0.0105,"kh":0.0295},{"y":1990,"k":0.0003,"kl":-0.0197,"kh":0.0203},{"y":1991,"k":-0.0012,"kl":-0.0212,"kh":0.0188},{"y":1992,"k":0.011,"kl":-0.009,"kh":0.031},{"y":1993,"k":0.0126,"kl":-0.0074,"kh":0.0326},{"y":1994,"k":0.0138,"kl":-0.0062,"kh":0.0338},{"y":1995,"k":0.0072,"kl":-0.0128,"kh":0.0272},{"y":1996,"k":0.0049,"kl":-0.0151,"kh":0.0249},{"y":1997,"k":0.0034,"kl":-0.0166,"kh":0.0234},{"y":1998,"k":-0.0012,"kl":-0.0212,"kh":0.0188},{"y":1999,"k":0.0049,"kl":-0.0151,"kh":0.0249},{"y":2000,"k":0.0083,"kl":-0.0117,"kh":0.0283},{"y":2001,"k":0.0068,"kl":-0.0132,"kh":0.0268},{"y":2002,"k":0.0011,"kl":-0.0189,"kh":0.0211},{"y":2003,"k":0.0042,"kl":-0.0158,"kh":0.0242},{"y":2004,"k":0.0053,"kl":-0.0147,"kh":0.0253},{"y":2005,"k":0.0072,"kl":-0.0128,"kh":0.0272},
{"y":2006,"k":0.0018,"kl":-0.0182,"kh":0.0218,"b":-0.003,"bl":-0.025,"bh":0.019,"r":0.002,"rl":-0.02,"rh":0.024},
{"y":2007,"k":-0.002,"kl":-0.022,"kh":0.018,"b":0.0,"bl":-0.022,"bh":0.022,"r":0.004,"rl":-0.018,"rh":0.026},
{"y":2008,"k":-0.002,"kl":-0.022,"kh":0.018,"b":-0.004,"bl":-0.026,"bh":0.018,"r":0.0,"rl":-0.022,"rh":0.022},
{"y":2009,"k":0.001,"kl":-0.019,"kh":0.021,"b":0.005,"bl":-0.017,"bh":0.027,"r":-0.004,"rl":-0.026,"rh":0.018},
{"y":2010,"k":0.006,"kl":-0.014,"kh":0.026,"b":-0.003,"bl":-0.025,"bh":0.019,"r":-0.002,"rl":-0.024,"rh":0.02},
{"y":2011,"k":0.0049,"kl":-0.0151,"kh":0.0249,"b":-0.004,"bl":-0.026,"bh":0.018,"r":0.002,"rl":-0.02,"rh":0.024},
{"y":2012,"k":-0.004,"kl":-0.024,"kh":0.016,"b":0.0,"bl":-0.022,"bh":0.022,"r":0.003,"rl":-0.019,"rh":0.025},
{"y":2013,"k":-0.006,"kl":-0.026,"kh":0.014,"b":0.004,"bl":-0.018,"bh":0.026,"r":0.004,"rl":-0.018,"rh":0.026},
{"y":2014,"k":0.0,"kl":-0.02,"kh":0.02,"b":0.008,"bl":-0.014,"bh":0.03,"r":-0.013,"rl":-0.035,"rh":0.009},
{"y":2015,"k":0.0,"kl":-0.02,"kh":0.02,"b":-0.003,"bl":-0.025,"bh":0.019,"r":-0.005,"rl":-0.027,"rh":0.017},
{"y":2016,"k":-0.002,"kl":-0.022,"kh":0.018,"b":-0.005,"bl":-0.027,"bh":0.017,"r":-0.001,"rl":-0.023,"rh":0.021},
{"y":2017,"k":-0.0046,"kl":-0.0246,"kh":0.0154,"b":-0.002,"bl":-0.024,"bh":0.02,"r":-0.008,"rl":-0.03,"rh":0.014},
{"y":2018,"k":-0.0066,"kl":-0.0266,"kh":0.0134,"b":-0.004,"bl":-0.026,"bh":0.018,"r":-0.012,"rl":-0.034,"rh":0.01},
{"y":2019,"k":0.0,"kl":-0.02,"kh":0.02,"b":-0.005,"bl":-0.027,"bh":0.017,"r":-0.017,"rl":-0.039,"rh":0.005},
{"y":2020,"k":0.0034,"kl":-0.0166,"kh":0.0234,"b":-0.002,"bl":-0.024,"bh":0.02,"r":-0.016,"rl":-0.038,"rh":0.006},
{"y":2021,"k":-0.0028,"kl":-0.0228,"kh":0.0172,"b":-0.001,"bl":-0.023,"bh":0.021,"r":-0.009,"rl":-0.031,"rh":0.013},
{"y":2022,"k":-0.0089,"kl":-0.0289,"kh":0.0111,"b":-0.009,"bl":-0.031,"bh":0.013,"r":-0.006,"rl":-0.028,"rh":0.016},
{"y":2023,"k":-0.0097,"kl":-0.0297,"kh":0.0103,"b":-0.005,"bl":-0.027,"bh":0.017,"r":-0.003,"rl":-0.025,"rh":0.019},
{"y":2024,"k":-0.0104,"kl":-0.0304,"kh":0.0096,"b":-0.003,"bl":-0.025,"bh":0.019,"r":-0.012,"rl":-0.034,"rh":0.01},
{"y":2025,"k":-0.0127,"kl":-0.0327,"kh":0.0073,"b":-0.007,"bl":-0.029,"bh":0.015,"r":0.0,"rl":-0.022,"rh":0.022},
{"y":2026,"k":-0.0127,"kl":-0.0327,"kh":0.0073,"b":-0.01,"bl":-0.032,"bh":0.012,"r":-0.008,"rl":-0.03,"rh":0.014},
{"y":2027,"k":-0.0055,"kl":-0.0255,"kh":0.0145,"b":-0.009,"bl":-0.031,"bh":0.013,"r":-0.01,"rl":-0.032,"rh":0.012},
{"y":2028,"k":-0.0081,"kl":-0.0281,"kh":0.0119,"b":-0.011,"bl":-0.033,"bh":0.011,"r":-0.012,"rl":-0.034,"rh":0.01},
{"y":2029,"k":-0.0101,"kl":-0.0301,"kh":0.0099,"b":-0.013,"bl":-0.035,"bh":0.009,"r":-0.018,"rl":-0.04,"rh":0.004},
{"y":2030,"k":-0.012,"kl":-0.032,"kh":0.008,"b":-0.016,"bl":-0.038,"bh":0.006,"r":-0.013,"rl":-0.035,"rh":0.009},
{"y":2031,"k":-0.0173,"kl":-0.0373,"kh":0.0027,"b":-0.017,"bl":-0.039,"bh":0.005,"r":-0.015,"rl":-0.037,"rh":0.007},
{"y":2032,"k":-0.0212,"kl":-0.0412,"kh":-0.0012,"b":-0.015,"bl":-0.037,"bh":0.007,"r":-0.017,"rl":-0.039,"rh":0.005},
{"y":2033,"k":-0.015,"kl":-0.035,"kh":0.005,"b":-0.013,"bl":-0.035,"bh":0.009,"r":-0.019,"rl":-0.041,"rh":0.003},
{"y":2034,"k":-0.0135,"kl":-0.0335,"kh":0.0065,"b":-0.028,"bl":-0.05,"bh":-0.006,"r":-0.02,"rl":-0.042,"rh":0.002},
{"y":2035,"k":-0.0209,"kl":-0.0409,"kh":-0.0009,"b":-0.01,"bl":-0.032,"bh":0.012,"r":-0.017,"rl":-0.039,"rh":0.005},
{"y":2036,"k":-0.0209,"kl":-0.0409,"kh":-0.0009,"b":-0.015,"bl":-0.037,"bh":0.007,"r":-0.02,"rl":-0.042,"rh":0.002},
{"y":2037,"k":-0.0204,"kl":-0.0404,"kh":-0.0004,"b":-0.02,"bl":-0.042,"bh":0.002,"r":-0.016,"rl":-0.038,"rh":0.006},
{"y":2038,"k":-0.0132,"kl":-0.0332,"kh":0.0068,"b":-0.015,"bl":-0.037,"bh":0.007,"r":-0.013,"rl":-0.035,"rh":0.009},
{"y":2039,"k":-0.0166,"kl":-0.0366,"kh":0.0034,"b":-0.01,"bl":-0.032,"bh":0.012,"r":-0.019,"rl":-0.041,"rh":0.003},
{"y":2040,"k":-0.0227,"kl":-0.0427,"kh":-0.0027,"b":-0.02,"bl":-0.042,"bh":0.002,"r":-0.018,"rl":-0.04,"rh":0.004},
{"y":2041,"k":-0.0173,"kl":-0.0373,"kh":0.0027,"b":-0.025,"bl":-0.047,"bh":-0.003,"r":-0.022,"rl":-0.044,"rh":0.0},
{"y":2042,"k":-0.0204,"kl":-0.0404,"kh":-0.0004,"b":-0.03,"bl":-0.052,"bh":-0.008,"r":-0.019,"rl":-0.041,"rh":0.003},
{"y":2043,"k":-0.025,"kl":-0.045,"kh":-0.005,"b":-0.022,"bl":-0.044,"bh":0.0,"r":-0.014,"rl":-0.036,"rh":0.008},
{"y":2044,"k":-0.0242,"kl":-0.0442,"kh":-0.0042,"b":-0.025,"bl":-0.047,"bh":-0.003,"r":-0.023,"rl":-0.045,"rh":-0.001},
{"y":2045,"k":-0.028,"kl":-0.048,"kh":-0.008,"b":-0.033,"bl":-0.055,"bh":-0.011,"r":-0.03,"rl":-0.052,"rh":-0.008},
{"y":2046,"k":-0.0319,"kl":-0.0519,"kh":-0.0119,"b":-0.036,"bl":-0.058,"bh":-0.014,"r":-0.027,"rl":-0.049,"rh":-0.005},
{"y":2047,"k":-0.0258,"kl":-0.0458,"kh":-0.0058,"b":-0.036,"bl":-0.058,"bh":-0.014,"r":-0.029,"rl":-0.051,"rh":-0.007},
{"y":2048,"k":-0.0273,"kl":-0.0473,"kh":-0.0073,"b":-0.025,"bl":-0.047,"bh":-0.003,"r":-0.02,"rl":-0.042,"rh":0.002},
{"y":2049,"k":-0.0327,"kl":-0.0527,"kh":-0.0127,"b":-0.016,"bl":-0.038,"bh":0.006,"r":-0.02,"rl":-0.042,"rh":0.002},
{"y":2050,"k":-0.0304,"kl":-0.0504,"kh":-0.0104,"b":-0.028,"bl":-0.05,"bh":-0.006,"r":-0.032,"rl":-0.054,"rh":-0.01},
{"y":2051,"k":-0.0304,"kl":-0.0504,"kh":-0.0104,"b":-0.032,"bl":-0.054,"bh":-0.01,"r":-0.023,"rl":-0.045,"rh":-0.001},
{"y":2052,"k":-0.028,"kl":-0.048,"kh":-0.008,"b":-0.03,"bl":-0.052,"bh":-0.008,"r":-0.023,"rl":-0.045,"rh":-0.001},
{"y":2053,"k":-0.0319,"kl":-0.0519,"kh":-0.0119,"b":-0.034,"bl":-0.056,"bh":-0.012,"r":-0.033,"rl":-0.055,"rh":-0.011},
{"y":2054,"k":-0.0334,"kl":-0.0534,"kh":-0.0134,"b":-0.03,"bl":-0.052,"bh":-0.008,"r":-0.025,"rl":-0.047,"rh":-0.003},
{"y":2055,"k":-0.0334,"kl":-0.0534,"kh":-0.0134,"b":-0.04,"bl":-0.062,"bh":-0.018,"r":-0.023,"rl":-0.045,"rh":-0.001},
{"y":2056,"k":-0.0319,"kl":-0.0519,"kh":-0.0119,"b":-0.041,"bl":-0.063,"bh":-0.019,"r":-0.025,"rl":-0.047,"rh":-0.003},
{"y":2057,"k":-0.0365,"kl":-0.0565,"kh":-0.0165,"b":-0.04,"bl":-0.062,"bh":-0.018,"r":-0.03,"rl":-0.052,"rh":-0.008},
{"y":2058,"k":-0.0419,"kl":-0.0619,"kh":-0.0219,"b":-0.044,"bl":-0.066,"bh":-0.022,"r":-0.031,"rl":-0.053,"rh":-0.009},
{"y":2059,"k":-0.0396,"kl":-0.0596,"kh":-0.0196,"b":-0.039,"bl":-0.061,"bh":-0.017,"r":-0.027,"rl":-0.049,"rh":-0.005},
{"y":2060,"k":-0.0434,"kl":-0.0634,"kh":-0.0234,"b":-0.04,"bl":-0.062,"bh":-0.018,"r":-0.021,"rl":-0.043,"rh":0.001},
{"y":2061,"k":-0.0419,"kl":-0.0619,"kh":-0.0219,"b":-0.043,"bl":-0.065,"bh":-0.021,"r":-0.025,"rl":-0.047,"rh":-0.003},
{"y":2062,"k":-0.0442,"kl":-0.0642,"kh":-0.0242,"b":-0.044,"bl":-0.066,"bh":-0.022,"r":-0.022,"rl":-0.044,"rh":0.0},
{"y":2063,"k":-0.0465,"kl":-0.0665,"kh":-0.0265,"b":-0.047,"bl":-0.069,"bh":-0.025,"r":-0.027,"rl":-0.049,"rh":-0.005},
{"y":2064,"k":-0.0427,"kl":-0.0627,"kh":-0.0227,"b":-0.046,"bl":-0.068,"bh":-0.024,"r":-0.028,"rl":-0.05,"rh":-0.006},
{"y":2065,"k":-0.048,"kl":-0.068,"kh":-0.028,"b":-0.044,"bl":-0.066,"bh":-0.022,"r":-0.024,"rl":-0.046,"rh":-0.002},
{"y":2066,"k":-0.045,"kl":-0.065,"kh":-0.025,"b":-0.045,"bl":-0.067,"bh":-0.023,"r":-0.029,"rl":-0.051,"rh":-0.007},
{"y":2067,"k":-0.0442,"kl":-0.0642,"kh":-0.0242,"b":-0.044,"bl":-0.066,"bh":-0.022,"r":-0.019,"rl":-0.041,"rh":0.003},
{"y":2068,"k":-0.0542,"kl":-0.0742,"kh":-0.0342,"b":-0.056,"bl":-0.078,"bh":-0.034,"r":-0.028,"rl":-0.05,"rh":-0.006},
{"y":2069,"k":-0.0439,"kl":-0.0639,"kh":-0.0239,"b":-0.058,"bl":-0.08,"bh":-0.036,"r":-0.03,"rl":-0.052,"rh":-0.008},
{"y":2070,"k":-0.0434,"kl":-0.0634,"kh":-0.0234,"b":-0.05,"bl":-0.072,"bh":-0.028,"r":-0.036,"rl":-0.058,"rh":-0.014},
{"y":2071,"k":-0.0526,"kl":-0.0726,"kh":-0.0326,"b":-0.051,"bl":-0.073,"bh":-0.029,"r":-0.032,"rl":-0.054,"rh":-0.01},
{"y":2072,"k":-0.058,"kl":-0.078,"kh":-0.038,"b":-0.055,"bl":-0.077,"bh":-0.033,"r":-0.03,"rl":-0.052,"rh":-0.008},
{"y":2073,"k":-0.0488,"kl":-0.0688,"kh":-0.0288,"b":-0.04,"bl":-0.062,"bh":-0.018,"r":-0.031,"rl":-0.053,"rh":-0.009},
{"y":2074,"k":-0.0496,"kl":-0.0696,"kh":-0.0296,"b":-0.055,"bl":-0.077,"bh":-0.033,"r":-0.043,"rl":-0.065,"rh":-0.021},
{"y":2075,"k":-0.0534,"kl":-0.0734,"kh":-0.0334,"b":-0.069,"bl":-0.091,"bh":-0.047,"r":-0.034,"rl":-0.056,"rh":-0.012},
{"y":2076,"k":-0.0565,"kl":-0.0765,"kh":-0.0365,"b":-0.054,"bl":-0.076,"bh":-0.032,"r":-0.029,"rl":-0.051,"rh":-0.007},
{"y":2077,"k":-0.0634,"kl":-0.0834,"kh":-0.0434,"b":-0.052,"bl":-0.074,"bh":-0.03,"r":-0.03,"rl":-0.052,"rh":-0.008},
{"y":2078,"k":-0.0526,"kl":-0.0726,"kh":-0.0326,"b":-0.06,"bl":-0.082,"bh":-0.038,"r":-0.03,"rl":-0.052,"rh":-0.008},
{"y":2079,"k":-0.0506,"kl":-0.0706,"kh":-0.0306,"b":-0.058,"bl":-0.08,"bh":-0.036,"r":-0.036,"rl":-0.058,"rh":-0.014},
{"y":2080,"k":-0.0645,"kl":-0.0845,"kh":-0.0445,"b":-0.063,"bl":-0.085,"bh":-0.041,"r":-0.036,"rl":-0.058,"rh":-0.014}
]
},
"concat":[
{"width":389,"height":217,"data":{"name":"A"},
"encoding":{"x":{"field":"y","type":"quantitative","scale":{"domain":[1985,2081],"nice":false,"zero":false},"axis":{"values":[1985,2005,2025,2045,2065,2080],"format":"d","title":null,"tickSize":4,"labelPadding":11}}},
"layer":[
{"mark":{"type":"area","color":"#c4c4c4","opacity":0.45,"clip":true},"encoding":{"y":{"field":"kl","type":"quantitative","scale":{"domain":[-1,5],"nice":false,"zero":false},"axis":{"orient":"left","values":[-1,0,1,2,3,4,5],"format":".1f","tickSize":9,"labelPadding":4,"title":"a","titleAngle":0,"titleX":0,"titleY":-8,"titleAlign":"left","titleBaseline":"alphabetic","titleFontSize":22,"titleFontWeight":"bold","titleFont":"Liberation Sans"}},"y2":{"field":"kh"}}},
{"mark":{"type":"area","color":"#6f6fd8","opacity":0.22,"clip":true},"encoding":{"y":{"field":"bl","type":"quantitative","axis":{"orient":"left","values":[-0.8,-0.6,-0.4,-0.2,0.2,0.4,0.6,0.8,1.2,1.4,1.6,1.8,2.2,2.4,2.6,2.8,3.2,3.4,3.6,3.8,4.2,4.4,4.6,4.8],"labels":false,"domain":false,"tickSize":4.5,"title":"Changes in Ensemble Mean SAT","titleAngle":0,"titleX":37,"titleY":-8,"titleAlign":"left","titleBaseline":"alphabetic","titleFontSize":14}},"y2":{"field":"bh"}}},
{"mark":{"type":"area","color":"#f07070","opacity":0.22,"clip":true},"encoding":{"y":{"field":"rl","type":"quantitative","axis":{"orient":"right","values":[-1,0,1,2,3,4,5],"labels":false,"tickSize":8,"title":"°C","titleAngle":0,"titleX":0,"titleY":-6,"titleAlign":"right","titleBaseline":"alphabetic","titleFontSize":13}},"y2":{"field":"rh"}}},
{"mark":{"type":"line","strokeWidth":1.3,"clip":true},"encoding":{"y":{"field":"k","type":"quantitative","axis":{"orient":"right","values":[-0.8,-0.6,-0.4,-0.2,0.2,0.4,0.6,0.8,1.2,1.4,1.6,1.8,2.2,2.4,2.6,2.8,3.2,3.4,3.6,3.8,4.2,4.4,4.6,4.8],"labels":false,"domain":false,"tickSize":4,"title":null}},
"color":{"datum":"RCP8.5","type":"nominal","scale":{"domain":["RCP8.5_FixA","RCP4.5","RCP8.5"],"range":["#2c3fd0","#ea2a22","#000000"]},"legend":{"orient":"none","legendX":61,"legendY":18,"title":null,"symbolType":"M-5,0H5","symbolSize":100,"symbolStrokeWidth":1.3,"labelFont":"DejaVu Sans","labelFontSize":11,"labelColor":"black","labelOffset":22,"rowPadding":9,"padding":0}},
"strokeDash":{"datum":"RCP8.5","type":"nominal","scale":{"domain":["RCP8.5_FixA","RCP4.5","RCP8.5"],"range":[[2,2],[7,3],[1,0]]},"legend":{"orient":"none","legendX":61,"legendY":18,"title":null,"symbolType":"M-5,0H5","symbolSize":100,"symbolStrokeWidth":1.3,"labelFont":"DejaVu Sans","labelFontSize":11,"labelColor":"black","labelOffset":22,"rowPadding":9,"padding":0}}}},
{"mark":{"type":"line","strokeWidth":1.3,"clip":true},"encoding":{"y":{"field":"r","type":"quantitative","axis":null},"color":{"datum":"RCP4.5","type":"nominal"},"strokeDash":{"datum":"RCP4.5","type":"nominal"}}},
{"mark":{"type":"line","strokeWidth":1.3,"clip":true},"encoding":{"y":{"field":"b","type":"quantitative","axis":null},"color":{"datum":"RCP8.5_FixA","type":"nominal"},"strokeDash":{"datum":"RCP8.5_FixA","type":"nominal"}}}
],
"resolve":{"axis":{"y":"independent"}}},
{"width":389,"height":217,"data":{"name":"B"},
"encoding":{"x":{"field":"y","type":"quantitative","scale":{"domain":[1985,2081],"nice":false,"zero":false},"axis":{"values":[1985,2005,2025,2045,2065,2080],"format":"d","title":null,"tickSize":4,"labelPadding":11}}},
"layer":[
{"mark":{"type":"area","color":"#c4c4c4","opacity":0.45,"clip":true},"encoding":{"y":{"field":"kl","type":"quantitative","scale":{"domain":[-0.1,0.25],"nice":false,"zero":false},"axis":{"orient":"left","values":[-0.1,0,0.1,0.2],"format":".2f","tickSize":9,"labelPadding":4,"title":"b","titleAngle":0,"titleX":0,"titleY":-8,"titleAlign":"left","titleBaseline":"alphabetic","titleFontSize":22,"titleFontWeight":"bold","titleFont":"Liberation Sans"}},"y2":{"field":"kh"}}},
{"mark":{"type":"area","color":"#6f6fd8","opacity":0.22,"clip":true},"encoding":{"y":{"field":"bl","type":"quantitative","axis":{"orient":"left","values":[-0.08,-0.06,-0.04,-0.02,0.02,0.04,0.06,0.08,0.12,0.14,0.16,0.18,0.22,0.24],"labels":false,"domain":false,"tickSize":4.5,"title":"Changes in Ensemble Mean P","titleAngle":0,"titleX":41,"titleY":-8,"titleAlign":"left","titleBaseline":"alphabetic","titleFontSize":14}},"y2":{"field":"bh"}}},
{"mark":{"type":"area","color":"#f07070","opacity":0.22,"clip":true},"encoding":{"y":{"field":"rl","type":"quantitative","axis":{"orient":"right","values":[-0.1,0,0.1,0.2],"labels":false,"tickSize":8,"title":"mm/day","titleAngle":0,"titleX":0,"titleY":-4,"titleAlign":"right","titleBaseline":"alphabetic","titleFontSize":14}},"y2":{"field":"rh"}}},
{"mark":{"type":"line","strokeWidth":1.3,"clip":true,"color":"#000000"},"encoding":{"y":{"field":"k","type":"quantitative","axis":{"orient":"right","values":[-0.08,-0.06,-0.04,-0.02,0.02,0.04,0.06,0.08,0.12,0.14,0.16,0.18,0.22,0.24],"labels":false,"domain":false,"tickSize":4,"title":null}}}},
{"mark":{"type":"line","strokeWidth":1.3,"clip":true,"color":"#ea2a22","strokeDash":[7,3]},"encoding":{"y":{"field":"r","type":"quantitative","axis":null}}},
{"mark":{"type":"line","strokeWidth":1.3,"clip":true,"color":"#2c3fd0","strokeDash":[2,2]},"encoding":{"y":{"field":"b","type":"quantitative","axis":null}}}
],
"resolve":{"axis":{"y":"independent"}}},
{"width":389,"height":217,"data":{"name":"C"},
"encoding":{"x":{"field":"y","type":"quantitative","scale":{"domain":[1985,2081],"nice":false,"zero":false},"axis":{"values":[1985,2005,2025,2045,2065,2080],"format":"d","title":null,"tickSize":4,"labelPadding":11}}},
"layer":[
{"mark":{"type":"area","color":"#c4c4c4","opacity":0.45,"clip":true},"encoding":{"y":{"field":"kl","type":"quantitative","scale":{"domain":[-0.2,0.5],"nice":false,"zero":false},"axis":{"orient":"left","values":[-0.2,0,0.2,0.4],"format":".2f","labelExpr":"replace(datum.label, '\u2212', '-')","tickSize":9,"labelPadding":4,"title":"c","titleAngle":0,"titleX":0,"titleY":-8,"titleAlign":"left","titleBaseline":"alphabetic","titleFontSize":22,"titleFontWeight":"bold","titleFont":"Liberation Sans"}},"y2":{"field":"kh"}}},
{"mark":{"type":"area","color":"#6f6fd8","opacity":0.22,"clip":true},"encoding":{"y":{"field":"bl","type":"quantitative","axis":{"orient":"left","values":[-0.15,-0.1,-0.05,0.05,0.1,0.15,0.25,0.3,0.35,0.45],"labels":false,"domain":false,"tickSize":4.5,"title":"Changes in Ensemble Mean PET","titleAngle":0,"titleX":38,"titleY":-8,"titleAlign":"left","titleBaseline":"alphabetic","titleFontSize":14}},"y2":{"field":"bh"}}},
{"mark":{"type":"area","color":"#f07070","opacity":0.22,"clip":true},"encoding":{"y":{"field":"rl","type":"quantitative","axis":{"orient":"right","values":[-0.2,0,0.2,0.4],"labels":false,"tickSize":8,"title":"mm/day","titleAngle":0,"titleX":0,"titleY":-4,"titleAlign":"right","titleBaseline":"alphabetic","titleFontSize":14}},"y2":{"field":"rh"}}},
{"mark":{"type":"line","strokeWidth":1.3,"clip":true,"color":"#000000"},"encoding":{"y":{"field":"k","type":"quantitative","axis":{"orient":"right","values":[-0.15,-0.1,-0.05,0.05,0.1,0.15,0.25,0.3,0.35,0.45],"labels":false,"domain":false,"tickSize":4,"title":null}}}},
{"mark":{"type":"line","strokeWidth":1.3,"clip":true,"color":"#ea2a22","strokeDash":[7,3]},"encoding":{"y":{"field":"r","type":"quantitative","axis":null}}},
{"mark":{"type":"line","strokeWidth":1.3,"clip":true,"color":"#2c3fd0","strokeDash":[2,2]},"encoding":{"y":{"field":"b","type":"quantitative","axis":null}}}
],
"resolve":{"axis":{"y":"independent"}}},
{"width":389,"height":217,"data":{"name":"D"},
"encoding":{"x":{"field":"y","type":"quantitative","scale":{"domain":[1985,2081],"nice":false,"zero":false},"axis":{"values":[1985,2005,2025,2045,2065,2080],"format":"d","title":null,"tickSize":4,"labelPadding":11}}},
"layer":[
{"mark":{"type":"area","color":"#c4c4c4","opacity":0.45,"clip":true},"encoding":{"y":{"field":"kl","type":"quantitative","scale":{"domain":[-0.08,0.02],"nice":false,"zero":false},"axis":{"orient":"left","values":[-0.08,-0.06,-0.04,-0.02,0,0.02],"format":".3f","labelExpr":"replace(datum.label, '\u2212', '-')","tickSize":9,"labelPadding":4,"title":"d","titleAngle":0,"titleX":0,"titleY":-8,"titleAlign":"left","titleBaseline":"alphabetic","titleFontSize":22,"titleFontWeight":"bold","titleFont":"Liberation Sans"}},"y2":{"field":"kh"}}},
{"mark":{"type":"area","color":"#6f6fd8","opacity":0.22,"clip":true},"encoding":{"y":{"field":"bl","type":"quantitative","axis":{"orient":"left","values":[-0.075,-0.07,-0.065,-0.055,-0.05,-0.045,-0.035,-0.03,-0.025,-0.015,-0.01,-0.005,0.005,0.01,0.015],"labels":false,"domain":false,"tickSize":4.5,"title":"Changes in Ensemble Mean Aridity (P/PET)","titleAngle":0,"titleX":40,"titleY":-8,"titleAlign":"left","titleBaseline":"alphabetic","titleFontSize":14}},"y2":{"field":"bh"}}},
{"mark":{"type":"area","color":"#f07070","opacity":0.22,"clip":true},"encoding":{"y":{"field":"rl","type":"quantitative","axis":{"orient":"right","values":[-0.08,-0.06,-0.04,-0.02,0,0.02],"labels":false,"tickSize":8,"title":null}},"y2":{"field":"rh"}}},
{"mark":{"type":"line","strokeWidth":1.3,"clip":true,"color":"#000000"},"encoding":{"y":{"field":"k","type":"quantitative","axis":{"orient":"right","values":[-0.075,-0.07,-0.065,-0.055,-0.05,-0.045,-0.035,-0.03,-0.025,-0.015,-0.01,-0.005,0.005,0.01,0.015],"labels":false,"domain":false,"tickSize":4,"title":null}}}},
{"mark":{"type":"line","strokeWidth":1.3,"clip":true,"color":"#ea2a22","strokeDash":[7,3]},"encoding":{"y":{"field":"r","type":"quantitative","axis":null}}},
{"mark":{"type":"line","strokeWidth":1.3,"clip":true,"color":"#2c3fd0","strokeDash":[2,2]},"encoding":{"y":{"field":"b","type":"quantitative","axis":null}}}
],
"resolve":{"axis":{"y":"independent"}}}
]
}
